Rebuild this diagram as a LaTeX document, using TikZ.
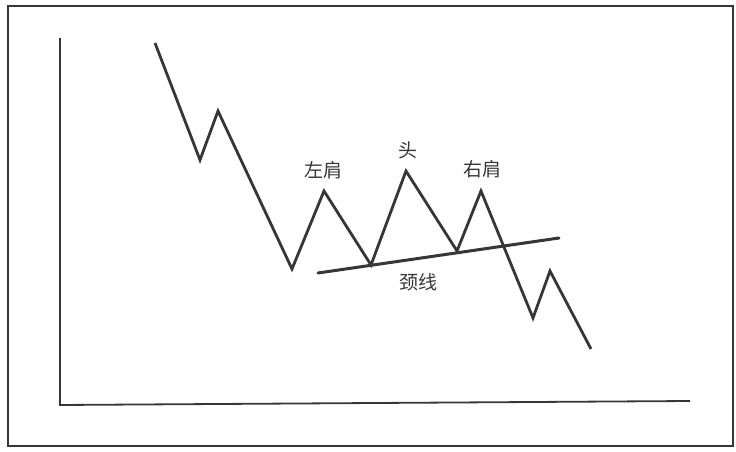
\documentclass[tikz,border=0pt]{standalone}
\usepackage{fontspec}
\newfontfamily\cjk{Noto Sans CJK SC}
\definecolor{ink}{HTML}{363636}
\begin{document}
\begin{tikzpicture}[x=1bp,y=-1bp,
  frame/.style={draw=ink,line width=1.8bp},
  axis/.style={draw=ink,line width=1.8bp},
  price/.style={draw=ink,line width=2.8bp,line join=miter,line cap=butt},
  neck/.style={draw=ink,line width=3bp,line cap=round},
  lbl/.style={font=\cjk\fontsize{19bp}{21bp}\selectfont,text=ink,inner sep=0pt}]
\useasboundingbox (0,0) rectangle (736,452);
\draw[frame] (8,6) rectangle (733,446);
% axes
\coordinate (ytop) at (60,38);
\coordinate (origin) at (60,405);
\coordinate (xend) at (690,401);
\draw[axis] (ytop) -- (origin) -- (xend);
% price path
\coordinate (p0) at (155,43);
\coordinate (p1) at (200,160);
\coordinate (p2) at (218,111);
\coordinate (p3) at (292,269);
\coordinate (ls) at (324,191);
\coordinate (v1) at (371,265);
\coordinate (hd) at (406,171);
\coordinate (v2) at (457,251);
\coordinate (rs) at (481,191);
\coordinate (p9) at (533,318);
\coordinate (p10) at (550,271);
\coordinate (p11) at (591,349);
\draw[price] (p0) -- (p1) -- (p2) -- (p3) -- (ls) -- (v1) -- (hd) -- (v2) -- (rs) -- (p9) -- (p10) -- (p11);
% neckline
\coordinate (n0) at (318,273);
\coordinate (n1) at (559,238);
\draw[neck] (n0) -- (n1);
% labels
\node[lbl] (tls) at (323,170) {左肩};
\node[lbl] (thd) at (408,150) {头};
\node[lbl] (trs) at (482,169) {右肩};
\node[lbl] (tnk) at (418,282) {颈线};
\end{tikzpicture}
\end{document}
